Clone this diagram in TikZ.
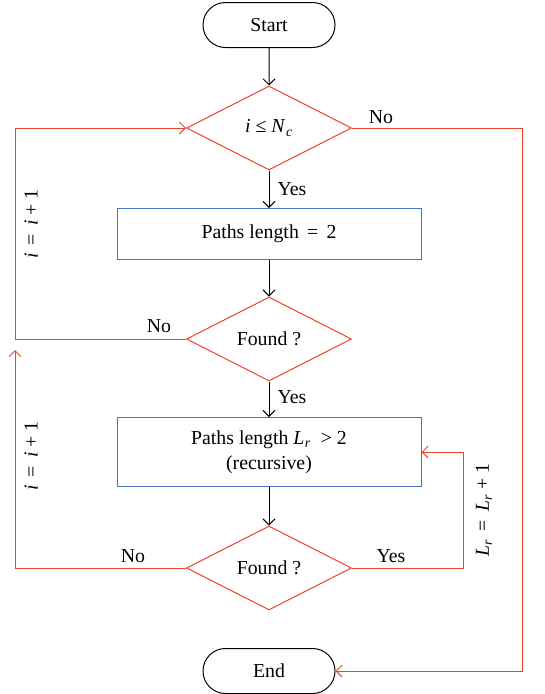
\documentclass[tikz,border=0pt]{standalone}
\usepackage{fontspec}
\setmainfont{Liberation Serif}
\usetikzlibrary{shapes.geometric,shapes.misc,arrows.meta}
\definecolor{redl}{RGB}{236,66,44}
\definecolor{bluel}{RGB}{72,115,200}
\newcommand{\itx}[1]{\textit{#1}}
\newcommand{\Lr}{\textit{L}\kern0.5pt\textsubscript{\textit{r}}}
\begin{document}
\begin{tikzpicture}[x=1pt,y=-1pt,
  every node/.style={font=\fontsize{19.8}{22}\selectfont},
  term/.style={rounded rectangle, draw=black, line width=1pt, minimum width=132pt, minimum height=45pt, inner sep=0pt},
  dec/.style={diamond, draw=redl, line width=1pt, minimum width=165pt, minimum height=84pt, inner sep=0pt, aspect=2},
  proc/.style={rectangle, draw=bluel, line width=1pt, minimum width=304pt, inner sep=0pt, align=center},
  blk/.style={-{Straight Barb[length=6pt,width=12pt]}, line width=1pt},
  rline/.style={draw=redl, line width=1pt},
  rarr/.style={rline, -{Straight Barb[length=6pt,width=12pt]}},
  lbl/.style={inner sep=0pt}
]
\useasboundingbox (0,0) rectangle (544,694);

\node[term] (start) at (269,25) {Start};
\node[dec] (d1) at (269,128) {\itx{i} ≤ \itx{N}\kern0.5pt\textsubscript{\itx{c}}};
\node[proc, minimum height=51pt] (p1) at (269,234) {Paths length \,=\, 2};
\node[dec] (d2) at (269,339) {Found ?};
\node[proc, minimum height=69pt] (p2) at (269,452) {Paths length \Lr\ \ \textgreater\ 2\\[3pt](recursive)};
\node[dec] (d3) at (269,568) {Found ?};
\node[term] (end) at (269,671) {End};

\coordinate (rr) at (522,0);
\coordinate (ll) at (15,0);
\coordinate (rx) at (463,0);
\coordinate (up) at (15,350);

\draw[blk] (start) -- (d1);
\draw[blk] (d1) -- (p1);
\draw[blk] (p1) -- (d2);
\draw[blk] (d2) -- (p2);
\draw[blk] (p2) -- (d3);

\draw[rarr] (d1.east) -- (d1.east -| rr) -- (end.east -| rr) -- (end.east);
\draw[rarr] (d2.west) -- (d2.west -| ll) -- (d1.west -| ll) -- (d1.west);
\draw[rarr] (d3.west) -- (d3.west -| ll) -- (up);
\draw[rarr] (d3.east) -- (d3.east -| rx) -- (p2.east -| rx) -- (p2.east);

\node[lbl] (no1) at (381,117) {No};
\node[lbl] (yes1) at (292,189) {Yes};
\node[lbl] (no2) at (159,326) {No};
\node[lbl] (yes2) at (292,397) {Yes};
\node[lbl] (no3) at (133,556) {No};
\node[lbl] (yes3) at (391,556) {Yes};
\node[lbl, rotate=90] (li1) at (31,224) {\itx{i} \,=\, \itx{i} + 1};
\node[lbl, rotate=90] (li2) at (31,456) {\itx{i} \,=\, \itx{i} + 1};
\node[lbl, rotate=90] (lr) at (484,510) {\Lr\ \,=\, \Lr\ + 1};
\end{tikzpicture}
\end{document}
